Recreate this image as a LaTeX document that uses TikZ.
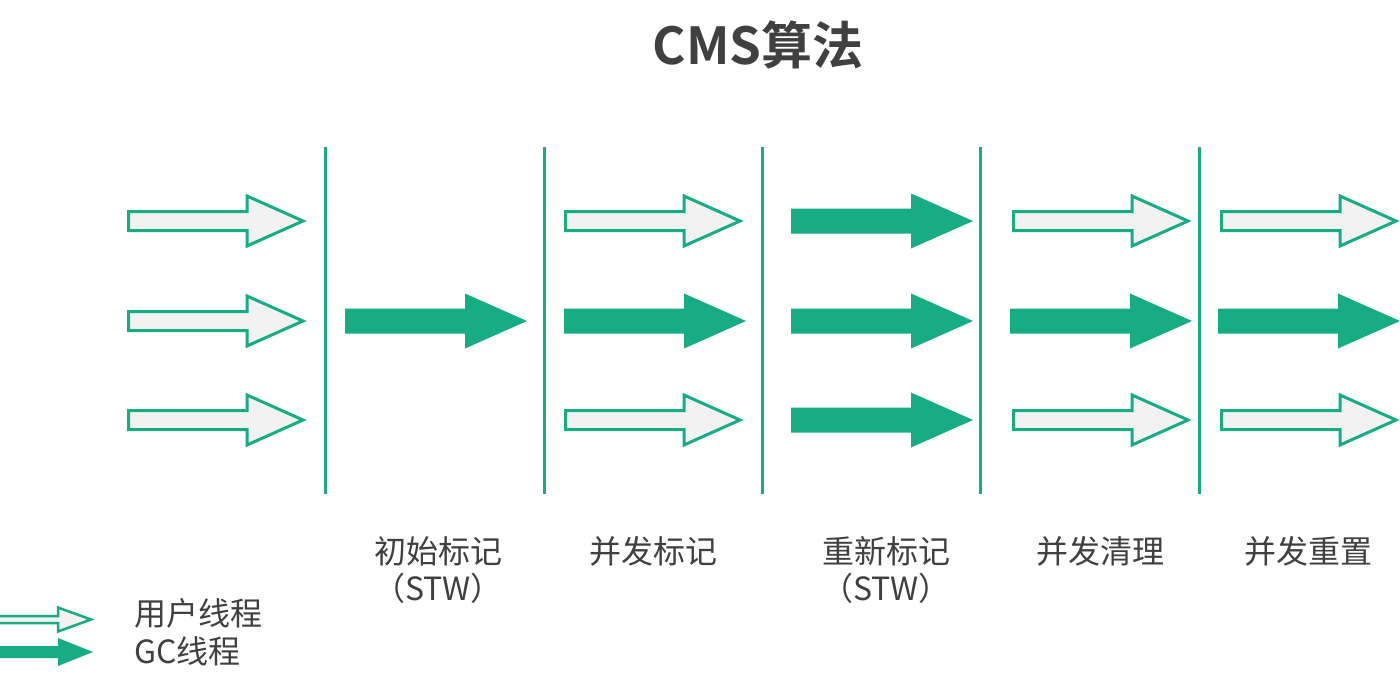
\documentclass[tikz,border=0pt]{standalone}
\usepackage{fontspec}
\setmainfont{Noto Sans CJK SC}
\newfontfamily\titlefont{Noto Sans CJK SC Bold}
\definecolor{gcgreen}{HTML}{16AD85}
\definecolor{userfill}{HTML}{F2F2F2}
\definecolor{txt}{HTML}{404040}
\tikzset{
  userarrow/.style={draw=gcgreen, fill=userfill, line width=3pt, line join=miter},
  gcarrow/.style={fill=gcgreen, draw=none},
  phase/.style={draw=gcgreen, line width=3pt},
  lbl/.style={text=txt, font=\fontsize{32}{36}\selectfont, inner sep=0pt, anchor=center},
}
% hollow (user thread) arrow: start x, centre y
\newcommand\userarr[2]{%
  \draw[userarrow] (#1+1.5,#2-9.5) -- (#1+120,#2-9.5) -- (#1+120,#2-25) -- (#1+176,#2)
    -- (#1+120,#2+25) -- (#1+120,#2+9.5) -- (#1+1.5,#2+9.5) -- cycle;}
% filled (GC thread) arrow: start x, centre y
\newcommand\gcarr[2]{%
  \fill[gcarrow] (#1,#2-12.5) -- (#1+120,#2-12.5) -- (#1+120,#2-27.5) -- (#1+182,#2)
    -- (#1+120,#2+27.5) -- (#1+120,#2+12.5) -- (#1,#2+12.5) -- cycle;}
\begin{document}
\begin{tikzpicture}[x=1pt,y=-1pt]
\useasboundingbox (0,0) rectangle (1400,689);
\fill[white] (0,0) rectangle (1400,689);
% title
\node[text=txt, inner sep=0pt, font=\titlefont\fontsize{51}{55}\selectfont] (title) at (758,45) {CMS算法};
% phase separators
\foreach \x/\n in {325/s1,544/s2,762/s3,980/s4,1199/s5}{
  \coordinate (\n top) at (\x,147);
  \coordinate (\n bot) at (\x,494);
  \draw[phase] (\n top) -- (\n bot);
}
% column 0: user threads
\foreach \y in {221,321,420}{ \userarr{127}{\y} }
% column 1: initial mark
\gcarr{345}{321}
% column 2: concurrent mark
\userarr{564}{221} \gcarr{564}{321} \userarr{564}{420}
% column 3: remark
\gcarr{791}{221} \gcarr{791}{321} \gcarr{791}{420}
% column 4: concurrent sweep
\userarr{1012}{221} \gcarr{1010}{321} \userarr{1012}{420}
% column 5: concurrent reset
\userarr{1220}{221} \gcarr{1218}{321} \userarr{1220}{420}
% phase labels
\node[lbl] (l1) at (438,551) {初始标记};
\node[lbl] (l1b) at (438,588) {（STW）};
\node[lbl] (l2) at (653,551) {并发标记};
\node[lbl] (l3) at (886,551) {重新标记};
\node[lbl] (l3b) at (886,588) {（STW）};
\node[lbl] (l4) at (1100,551) {并发清理};
\node[lbl] (l5) at (1308,551) {并发重置};
% legend
\draw[userarrow, line width=2.5pt] (-3,616) -- (58,616) -- (58,607.5) -- (91,619.5) -- (58,631.5) -- (58,623) -- (-3,623) -- cycle;
\fill[gcarrow] (0,646) -- (58,646) -- (58,638) -- (93,652) -- (58,666) -- (58,658) -- (0,658) -- cycle;
\node[lbl, anchor=west] (leg1) at (134,613) {用户线程};
\node[lbl, anchor=west] (leg2) at (134,651) {GC线程};
\end{tikzpicture}
\end{document}
